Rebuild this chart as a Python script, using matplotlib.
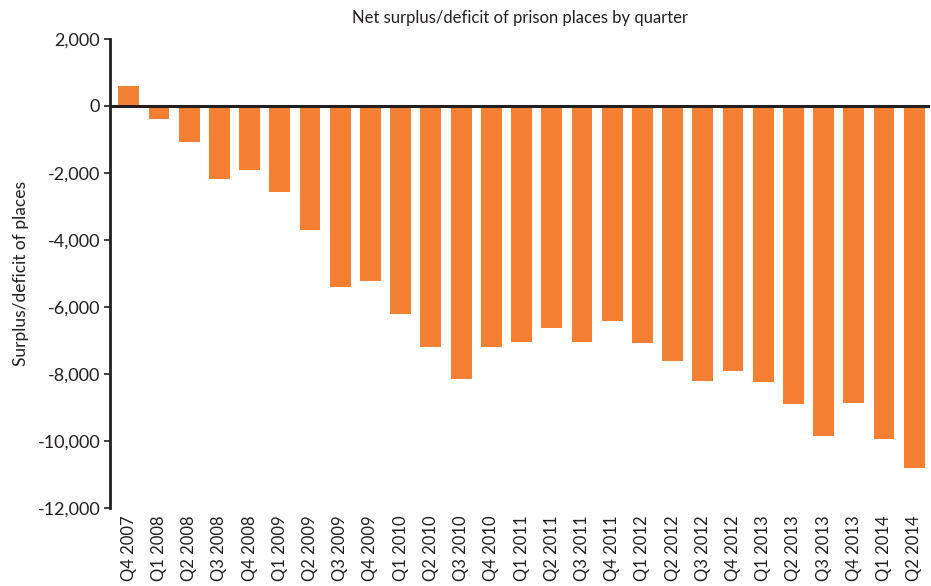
import matplotlib
matplotlib.use("Agg")
import matplotlib.pyplot as plt
from matplotlib.ticker import FuncFormatter

quarters = ["Q4 2007", "Q1 2008", "Q2 2008", "Q3 2008", "Q4 2008", "Q1 2009", "Q2 2009",
            "Q3 2009", "Q4 2009", "Q1 2010", "Q2 2010", "Q3 2010", "Q4 2010", "Q1 2011",
            "Q2 2011", "Q3 2011", "Q4 2011", "Q1 2012", "Q2 2012", "Q3 2012", "Q4 2012",
            "Q1 2013", "Q2 2013", "Q3 2013", "Q4 2013", "Q1 2014", "Q2 2014"]
values = [600, -390, -1070, -2180, -1910, -2570, -3700,
          -5400, -5220, -6210, -7190, -8150, -7190, -7040,
          -6630, -7040, -6420, -7070, -7610, -8210, -7910,
          -8240, -8900, -9850, -8870, -9940, -10800]

plt.rcParams['font.family'] = ['Lato', 'DejaVu Sans']

fig = plt.figure(figsize=(9.31, 5.86), dpi=100)
W, H = 931, 586
ax = fig.add_axes([110 / W, 1 - 508 / H, (930 - 110) / W, (508 - 39) / H])

x = list(range(len(quarters)))
ax.bar(x, values, width=0.69, color="#F58033", zorder=2)
ax.axhline(0, color="#231F20", lw=2.2, zorder=3)

ax.set_ylim(-12000, 2000)
ax.set_xlim(-0.62, len(quarters) - 0.48)
ax.set_yticks(range(-12000, 2001, 2000))
ax.yaxis.set_major_formatter(FuncFormatter(lambda v, p: f"{int(v):,}"))
ax.set_xticks(x)
ax.set_xticklabels(quarters, rotation=90, fontsize=12, color="#231F20")
ax.tick_params(axis='x', length=0, pad=5)
ax.tick_params(axis='y', labelsize=13, labelcolor="#231F20", length=4, width=1.2,
               color="#231F20", direction="out", pad=3)

for s in ["top", "right", "bottom"]:
    ax.spines[s].set_visible(False)
ax.spines["left"].set_linewidth(2)
ax.spines["left"].set_color("#231F20")

ax.set_ylabel("Surplus/deficit of places", fontsize=12.5, color="#231F20", labelpad=6)
fig.text(520 / W, 1 - 18 / H, "Net surplus/deficit of prison places by quarter",
         ha="center", va="center", fontsize=12, color="#231F20")

fig.savefig("out.png", dpi=100)
